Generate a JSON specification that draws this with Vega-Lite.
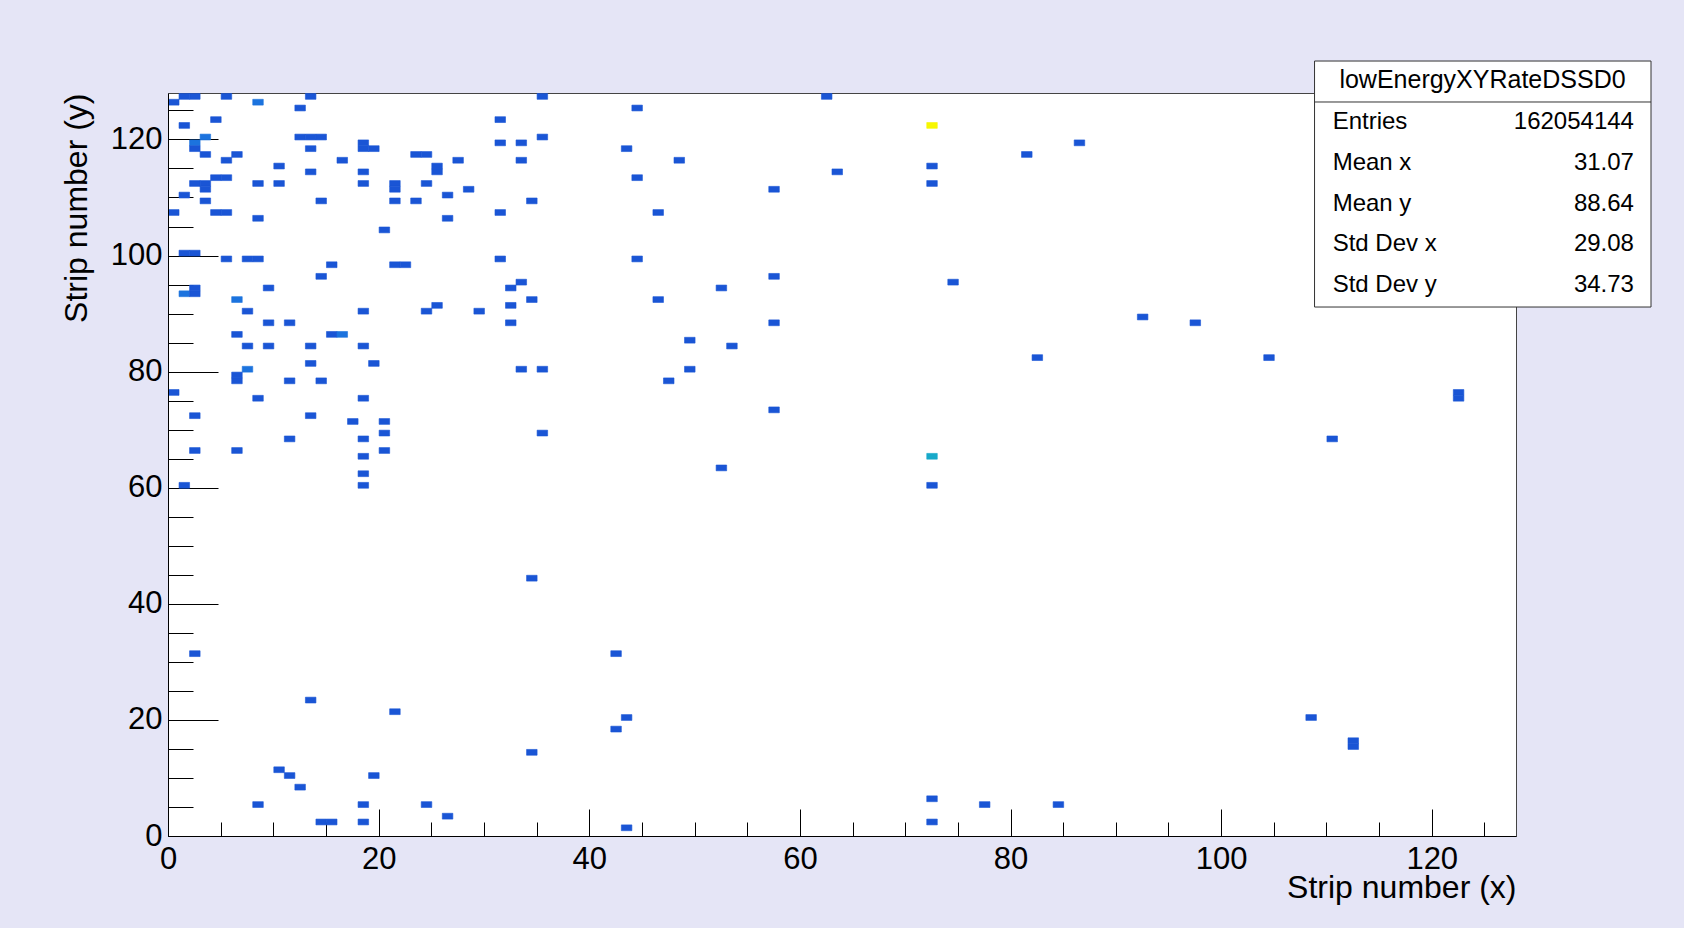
{
  "$schema": "https://vega.github.io/schema/vega-lite/v6.json",
  "width": 1348,
  "height": 743,
  "autosize": {"type": "none"},
  "padding": {"left": 168, "top": 93, "right": 168, "bottom": 92},
  "background": "#E5E5F6",
  "config": {
    "font": "Liberation Sans",
    "view": {"fill": "white", "stroke": "#444444", "strokeWidth": 1},
    "axis": {"grid": false, "labelFont": "Liberation Sans", "titleFont": "Liberation Sans"}
  },
  "resolve": {"scale": {"x": "independent", "y": "independent"}},
  "datasets": {
    "bins": [
      {"x":1,"y":127,"rate":1},{"x":2,"y":127,"rate":1},{"x":5,"y":127,"rate":1},{"x":13,"y":127,"rate":1},{"x":35,"y":127,"rate":1},{"x":62,"y":127,"rate":1},
      {"x":0,"y":126,"rate":1},{"x":8,"y":126,"rate":2},
      {"x":12,"y":125,"rate":1},{"x":44,"y":125,"rate":1},
      {"x":4,"y":123,"rate":1},{"x":31,"y":123,"rate":1},
      {"x":1,"y":122,"rate":1},{"x":72,"y":122,"rate":8},
      {"x":3,"y":120,"rate":2},{"x":12,"y":120,"rate":1},{"x":13,"y":120,"rate":1},{"x":14,"y":120,"rate":1},{"x":35,"y":120,"rate":1},
      {"x":2,"y":119,"rate":2},{"x":18,"y":119,"rate":1},{"x":31,"y":119,"rate":1},{"x":33,"y":119,"rate":1},{"x":86,"y":119,"rate":1},
      {"x":2,"y":118,"rate":1},{"x":13,"y":118,"rate":1},{"x":18,"y":118,"rate":1},{"x":19,"y":118,"rate":1},{"x":43,"y":118,"rate":1},
      {"x":3,"y":117,"rate":1},{"x":6,"y":117,"rate":1},{"x":23,"y":117,"rate":1},{"x":24,"y":117,"rate":1},{"x":81,"y":117,"rate":1},
      {"x":5,"y":116,"rate":1},{"x":16,"y":116,"rate":1},{"x":27,"y":116,"rate":1},{"x":33,"y":116,"rate":1},{"x":48,"y":116,"rate":1},
      {"x":10,"y":115,"rate":1},{"x":25,"y":115,"rate":1},{"x":72,"y":115,"rate":1},
      {"x":13,"y":114,"rate":1},{"x":18,"y":114,"rate":1},{"x":25,"y":114,"rate":1},{"x":63,"y":114,"rate":1},
      {"x":4,"y":113,"rate":1},{"x":5,"y":113,"rate":1},{"x":44,"y":113,"rate":1},
      {"x":2,"y":112,"rate":1},{"x":3,"y":112,"rate":1},{"x":8,"y":112,"rate":1},{"x":10,"y":112,"rate":1},{"x":18,"y":112,"rate":1},{"x":21,"y":112,"rate":1},{"x":24,"y":112,"rate":1},{"x":72,"y":112,"rate":1},
      {"x":3,"y":111,"rate":1},{"x":21,"y":111,"rate":1},{"x":28,"y":111,"rate":1},{"x":57,"y":111,"rate":1},
      {"x":1,"y":110,"rate":1},{"x":26,"y":110,"rate":1},
      {"x":3,"y":109,"rate":1},{"x":14,"y":109,"rate":1},{"x":21,"y":109,"rate":1},{"x":23,"y":109,"rate":1},{"x":34,"y":109,"rate":1},
      {"x":0,"y":107,"rate":1},{"x":4,"y":107,"rate":1},{"x":5,"y":107,"rate":1},{"x":31,"y":107,"rate":1},{"x":46,"y":107,"rate":1},
      {"x":8,"y":106,"rate":1},{"x":26,"y":106,"rate":1},
      {"x":20,"y":104,"rate":1},
      {"x":1,"y":100,"rate":1},{"x":2,"y":100,"rate":1},
      {"x":5,"y":99,"rate":1},{"x":7,"y":99,"rate":1},{"x":8,"y":99,"rate":1},{"x":31,"y":99,"rate":1},{"x":44,"y":99,"rate":1},
      {"x":15,"y":98,"rate":1},{"x":21,"y":98,"rate":1},{"x":22,"y":98,"rate":1},
      {"x":14,"y":96,"rate":1},{"x":57,"y":96,"rate":1},
      {"x":33,"y":95,"rate":1},{"x":74,"y":95,"rate":1},
      {"x":2,"y":94,"rate":1},{"x":9,"y":94,"rate":1},{"x":32,"y":94,"rate":1},{"x":52,"y":94,"rate":1},
      {"x":1,"y":93,"rate":2},{"x":2,"y":93,"rate":1},
      {"x":6,"y":92,"rate":2},{"x":34,"y":92,"rate":1},{"x":46,"y":92,"rate":1},
      {"x":25,"y":91,"rate":1},{"x":32,"y":91,"rate":1},
      {"x":7,"y":90,"rate":1},{"x":18,"y":90,"rate":1},{"x":24,"y":90,"rate":1},{"x":29,"y":90,"rate":1},
      {"x":92,"y":89,"rate":1},
      {"x":9,"y":88,"rate":1},{"x":11,"y":88,"rate":1},{"x":32,"y":88,"rate":1},{"x":57,"y":88,"rate":1},{"x":97,"y":88,"rate":1},
      {"x":6,"y":86,"rate":1},{"x":15,"y":86,"rate":1},{"x":16,"y":86,"rate":2},
      {"x":49,"y":85,"rate":1},
      {"x":7,"y":84,"rate":1},{"x":9,"y":84,"rate":1},{"x":13,"y":84,"rate":1},{"x":18,"y":84,"rate":1},{"x":53,"y":84,"rate":1},
      {"x":82,"y":82,"rate":1},{"x":104,"y":82,"rate":1},
      {"x":13,"y":81,"rate":1},{"x":19,"y":81,"rate":1},
      {"x":7,"y":80,"rate":2},{"x":33,"y":80,"rate":1},{"x":35,"y":80,"rate":1},{"x":49,"y":80,"rate":1},
      {"x":6,"y":79,"rate":1},
      {"x":6,"y":78,"rate":1},{"x":11,"y":78,"rate":1},{"x":14,"y":78,"rate":1},{"x":47,"y":78,"rate":1},
      {"x":0,"y":76,"rate":1},{"x":122,"y":76,"rate":1},
      {"x":8,"y":75,"rate":1},{"x":18,"y":75,"rate":1},{"x":122,"y":75,"rate":1},
      {"x":57,"y":73,"rate":1},
      {"x":2,"y":72,"rate":1},{"x":13,"y":72,"rate":1},
      {"x":17,"y":71,"rate":1},{"x":20,"y":71,"rate":1},
      {"x":20,"y":69,"rate":1},{"x":35,"y":69,"rate":1},
      {"x":11,"y":68,"rate":1},{"x":18,"y":68,"rate":1},{"x":110,"y":68,"rate":1},
      {"x":2,"y":66,"rate":1},{"x":6,"y":66,"rate":1},{"x":20,"y":66,"rate":1},
      {"x":18,"y":65,"rate":1},{"x":72,"y":65,"rate":3},
      {"x":52,"y":63,"rate":1},
      {"x":18,"y":62,"rate":1},
      {"x":1,"y":60,"rate":1},{"x":18,"y":60,"rate":1},{"x":72,"y":60,"rate":1},
      {"x":34,"y":44,"rate":1},
      {"x":2,"y":31,"rate":1},{"x":42,"y":31,"rate":1},
      {"x":13,"y":23,"rate":1},
      {"x":21,"y":21,"rate":1},
      {"x":43,"y":20,"rate":1},{"x":108,"y":20,"rate":1},
      {"x":42,"y":18,"rate":1},
      {"x":112,"y":16,"rate":1},{"x":112,"y":15,"rate":1},
      {"x":34,"y":14,"rate":1},
      {"x":10,"y":11,"rate":1},
      {"x":11,"y":10,"rate":1},{"x":19,"y":10,"rate":1},
      {"x":12,"y":8,"rate":1},
      {"x":72,"y":6,"rate":1},
      {"x":8,"y":5,"rate":1},{"x":18,"y":5,"rate":1},{"x":24,"y":5,"rate":1},{"x":77,"y":5,"rate":1},{"x":84,"y":5,"rate":1},
      {"x":26,"y":3,"rate":1},
      {"x":14,"y":2,"rate":1},{"x":15,"y":2,"rate":1},{"x":18,"y":2,"rate":1},{"x":72,"y":2,"rate":1},
      {"x":43,"y":1,"rate":1}
    ],
    "stats": [
      {"stat": "Entries", "value": "162054144"},
      {"stat": "Mean x", "value": "31.07"},
      {"stat": "Mean y", "value": "88.64"},
      {"stat": "Std Dev x", "value": "29.08"},
      {"stat": "Std Dev y", "value": "34.73"}
    ]
  },
  "layer": [
    {
      "data": {"name": "bins"},
      "mark": {"type": "rect", "strokeWidth": 0.6},
      "encoding": {
        "x": {
          "field": "x", "type": "quantitative", "bin": {"binned": true, "step": 1},
          "scale": {"domain": [0, 128], "nice": false, "zero": false},
          "axis": {
            "orient": "bottom", "values": [0, 20, 40, 60, 80, 100, 120],
            "ticks": false, "tickSize": 0, "labels": true, "domain": true, "domainColor": "black", "domainWidth": 1,
            "labelFontSize": 31, "labelPadding": 8, "labelColor": "black", "labelFlush": false, "labelOverlap": false,
            "title": "Strip number (x)", "titleFontSize": 32, "titleFontWeight": "normal", "titleColor": "black",
            "titleAlign": "right", "titleBaseline": "alphabetic", "titleX": 1348, "titleY": 61
          }
        },
        "y": {
          "field": "y", "type": "quantitative", "bin": {"binned": true, "step": 1},
          "scale": {"domain": [0, 128], "nice": false, "zero": false},
          "axis": {
            "orient": "left", "values": [0, 20, 40, 60, 80, 100, 120],
            "ticks": false, "tickSize": 0, "labels": true, "domain": true, "domainColor": "black", "domainWidth": 1,
            "labelFontSize": 31, "labelPadding": 6, "labelColor": "black", "labelFlush": false, "labelOverlap": false,
            "title": "Strip number (y)", "titleFontSize": 32, "titleFontWeight": "normal", "titleColor": "black",
            "titleAngle": -90, "titleAlign": "right", "titleBaseline": "alphabetic", "titleX": -82, "titleY": 0
          }
        },
        "color": {
          "field": "rate", "type": "quantitative",
          "scale": {"domain": [0, 1, 2, 3, 4, 5, 6, 7, 8], "range": ["#352A87", "#1A55D5", "#1C73DE", "#17A9C9", "#2EB7A4", "#87BF77", "#D1BB59", "#FEC832", "#F7F700"]},
          "legend": null
        },
        "stroke": {
          "field": "rate", "type": "quantitative",
          "scale": {"domain": [0, 1, 2, 3, 4, 5, 6, 7, 8], "range": ["#352A87", "#1A55D5", "#1C73DE", "#17A9C9", "#2EB7A4", "#87BF77", "#D1BB59", "#FEC832", "#F7F700"]},
          "legend": null
        }
      }
    },
    {
      "data": {"name": "bins"},
      "mark": {"type": "point", "opacity": 0},
      "encoding": {
        "x": {
          "field": "x", "type": "quantitative",
          "scale": {"domain": [0, 128], "nice": false, "zero": false},
          "axis": {"orient": "bottom", "values": [0, 20, 40, 60, 80, 100, 120], "labels": false, "domain": false, "ticks": true, "tickSize": -27, "tickColor": "black", "tickWidth": 1, "title": null}
        },
        "y": {
          "field": "y", "type": "quantitative",
          "scale": {"domain": [0, 128], "nice": false, "zero": false},
          "axis": {"orient": "left", "values": [0, 20, 40, 60, 80, 100, 120], "labels": false, "domain": false, "ticks": true, "tickSize": -50, "tickColor": "black", "tickWidth": 1, "title": null}
        }
      }
    },
    {
      "data": {"name": "bins"},
      "mark": {"type": "point", "opacity": 0},
      "encoding": {
        "x": {
          "field": "x", "type": "quantitative",
          "scale": {"domain": [0, 128], "nice": false, "zero": false},
          "axis": {"orient": "bottom", "values": [5, 10, 15, 25, 30, 35, 45, 50, 55, 65, 70, 75, 85, 90, 95, 105, 110, 115, 125], "labels": false, "domain": false, "ticks": true, "tickSize": -14, "tickColor": "black", "tickWidth": 1, "title": null}
        },
        "y": {
          "field": "y", "type": "quantitative",
          "scale": {"domain": [0, 128], "nice": false, "zero": false},
          "axis": {"orient": "left", "values": [5, 10, 15, 25, 30, 35, 45, 50, 55, 65, 70, 75, 85, 90, 95, 105, 110, 115, 125], "labels": false, "domain": false, "ticks": true, "tickSize": -25, "tickColor": "black", "tickWidth": 1, "title": null}
        }
      }
    },
    {
      "data": {"values": [{}]},
      "mark": {"type": "rect", "fill": "white", "stroke": "#333333", "strokeWidth": 1},
      "encoding": {
        "x": {"datum": 108.87, "type": "quantitative", "scale": {"domain": [0, 128], "nice": false, "zero": false}, "axis": null},
        "x2": {"datum": 140.82},
        "y": {"datum": 133.51, "type": "quantitative", "scale": {"domain": [0, 128], "nice": false, "zero": false}, "axis": null},
        "y2": {"datum": 91.13}
      }
    },
    {
      "data": {"values": [{}]},
      "mark": {"type": "rule", "stroke": "#333333", "strokeWidth": 1},
      "encoding": {
        "x": {"datum": 108.87, "type": "quantitative", "scale": {"domain": [0, 128], "nice": false, "zero": false}, "axis": null},
        "x2": {"datum": 140.82},
        "y": {"datum": 126.45, "type": "quantitative", "scale": {"domain": [0, 128], "nice": false, "zero": false}, "axis": null}
      }
    },
    {
      "data": {"values": [{}]},
      "mark": {"type": "text", "font": "Liberation Sans", "fontSize": 25, "align": "center", "baseline": "alphabetic", "color": "black"},
      "encoding": {
        "x": {"datum": 124.82, "type": "quantitative", "scale": {"domain": [0, 128], "nice": false, "zero": false}, "axis": null},
        "y": {"datum": 128.81, "type": "quantitative", "scale": {"domain": [0, 128], "nice": false, "zero": false}, "axis": null},
        "text": {"value": "lowEnergyXYRateDSSD0"}
      }
    },
    {
      "data": {"name": "stats"},
      "mark": {"type": "text", "font": "Liberation Sans", "fontSize": 24, "align": "left", "baseline": "alphabetic", "color": "black"},
      "encoding": {
        "x": {"datum": 110.59, "type": "quantitative", "scale": {"domain": [0, 128], "nice": false, "zero": false}, "axis": null},
        "y": {"field": "stat", "type": "ordinal", "sort": null, "scale": {"type": "point", "domain": ["Entries", "Mean x", "Mean y", "Std Dev x", "Std Dev y"], "range": [36, 199.3], "padding": 0}, "axis": null},
        "text": {"field": "stat"}
      }
    },
    {
      "data": {"name": "stats"},
      "mark": {"type": "text", "font": "Liberation Sans", "fontSize": 24, "align": "right", "baseline": "alphabetic", "color": "black"},
      "encoding": {
        "x": {"datum": 139.2, "type": "quantitative", "scale": {"domain": [0, 128], "nice": false, "zero": false}, "axis": null},
        "y": {"field": "stat", "type": "ordinal", "sort": null, "scale": {"type": "point", "domain": ["Entries", "Mean x", "Mean y", "Std Dev x", "Std Dev y"], "range": [36, 199.3], "padding": 0}, "axis": null},
        "text": {"field": "value"}
      }
    }
  ]
}
